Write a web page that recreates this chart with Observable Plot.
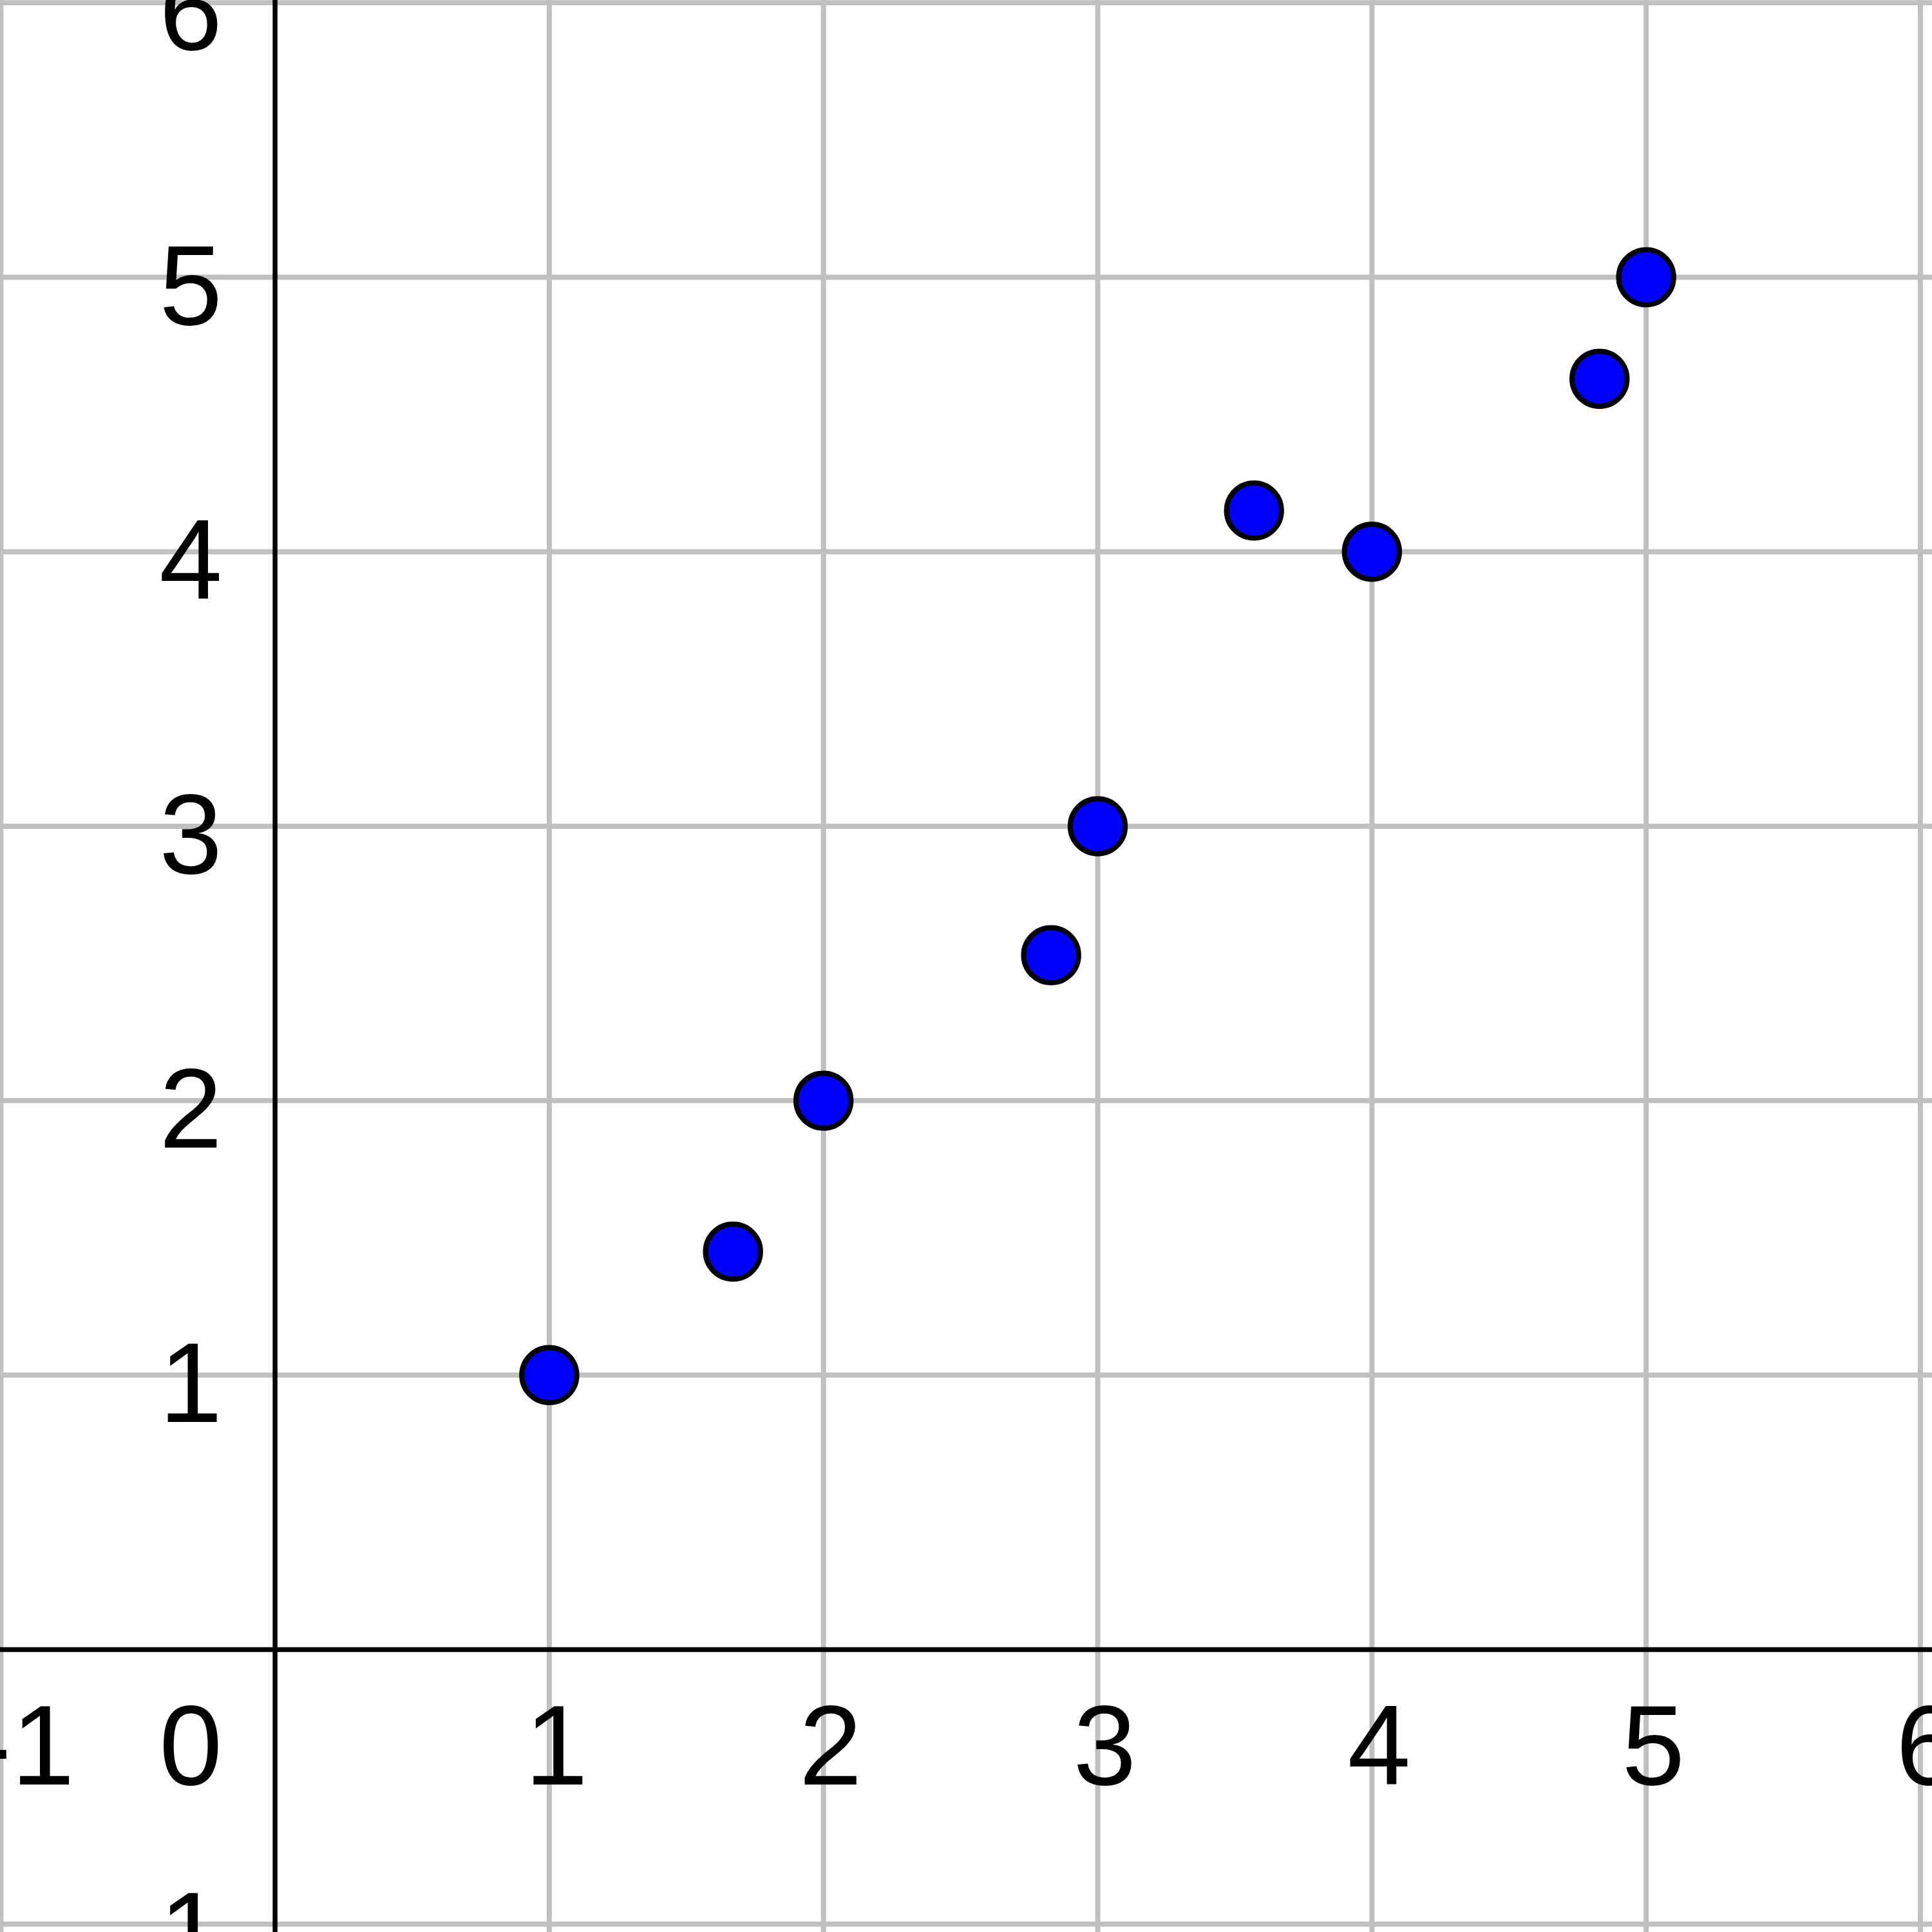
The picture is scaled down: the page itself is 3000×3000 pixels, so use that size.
<!DOCTYPE html>
<html>
<head>
<meta charset="utf-8">
<script src="https://cdn.jsdelivr.net/npm/d3@7"></script>
<script src="https://cdn.jsdelivr.net/npm/@observablehq/plot@0.6"></script>
<style>
  html, body { margin: 0; padding: 0; background: #ffffff; }
  #chart svg { display: block; }
</style>
</head>
<body>
<div id="chart"></div>
<script>
// Data
const pointX = [1, 1.67, 2, 2.83, 3, 3.57, 4, 4.83, 5];
const pointY = [1, 1.45, 2, 2.53, 3, 4.15, 4, 4.63, 5];

// Grid and tick labels
const gridX = [-1, 1, 2, 3, 4, 5, 6];
const gridY = [-1, 1, 2, 3, 4, 5, 6];
const xTickValues = [1, 2, 3, 4, 5, 6];
const xTickLabels = ["1", "2", "3", "4", "5", "6"];
const xNegTickValues = [-1];
const xNegTickLabels = ["-1"];
const yTickValues = [-1, 1, 2, 3, 4, 5, 6];
const yTickLabels = ["-1", "1", "2", "3", "4", "5", "6"];
const originLabel = ["0"];

const points = pointX.map((x, i) => ({x, y: pointY[i]}));
const xTicks = xTickValues.map((v, i) => ({v, label: xTickLabels[i]}));
const xNegTicks = xNegTickValues.map((v, i) => ({v, label: xNegTickLabels[i]}));
const yTicks = yTickValues.map((v, i) => ({v, label: yTickLabels[i]}));

const font = "'Liberation Sans', Arial, sans-serif";
const fs = 176;

const chart = Plot.plot({
  width: 3000,
  height: 3000,
  margin: 0,
  x: {domain: [-1.0019, 6.0436], axis: null},
  y: {domain: [-1.030, 6.009], axis: null},
  style: {background: "#ffffff", overflow: "hidden"},
  marks: [
    Plot.ruleX(gridX, {stroke: "#c0c0c0", strokeWidth: 8}),
    Plot.ruleY(gridY, {stroke: "#c0c0c0", strokeWidth: 8}),
    Plot.ruleX([0], {stroke: "#000000", strokeWidth: 7.5}),
    Plot.ruleY([0], {stroke: "#000000", strokeWidth: 7.5}),
    Plot.text(xTicks, {x: "v", y: () => 0, text: "label", textAnchor: "middle", lineAnchor: "bottom", dx: 11, dy: 209, fontSize: fs, fontFamily: font, fill: "#000000"}),
    Plot.text(xNegTicks, {x: "v", y: () => 0, text: "label", textAnchor: "middle", lineAnchor: "bottom", dx: 36, dy: 209, fontSize: fs, fontFamily: font, fill: "#000000"}),
    Plot.text(yTicks, {x: () => 0, y: "v", text: "label", textAnchor: "end", lineAnchor: "bottom", dx: -82, dy: 73, fontSize: fs, fontFamily: font, fill: "#000000"}),
    Plot.text(originLabel, {x: () => 0, y: () => 0, text: d => d, textAnchor: "end", lineAnchor: "bottom", dx: -82, dy: 209, fontSize: fs, fontFamily: font, fill: "#000000"}),
    Plot.dot(points, {x: "x", y: "y", r: 42.7, fill: "#0000ff", stroke: "#000000", strokeWidth: 8})
  ]
});
document.getElementById("chart").appendChild(chart);
</script>
</body>
</html>
